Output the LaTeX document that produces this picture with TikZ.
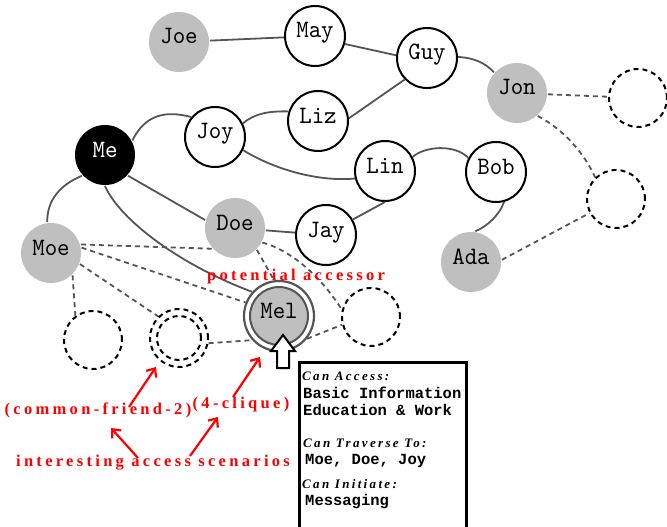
\documentclass[tikz,border=0pt]{standalone}
\usepackage{fontspec}
\usetikzlibrary{arrows.meta}
\newfontfamily\nodefont{lmmono10-regular.otf}[FakeStretch=0.95]
\newfontfamily\redfont[LetterSpace=20]{Liberation Serif}
\newfontfamily\headfont[LetterSpace=18]{Liberation Serif}
\newfontfamily\boxmonofont{Liberation Mono}
\definecolor{edgegray}{HTML}{555555}
\definecolor{fillgray}{HTML}{BFBFBF}
\begin{document}
\begin{tikzpicture}[x=1pt,y=-1pt,
  pnode/.style={circle, minimum size=60pt, inner sep=0pt, line width=2pt,
    font=\nodefont\fontsize{25}{25}\selectfont, text height=16pt, text depth=12pt},
  wnode/.style={pnode, draw=black, fill=white},
  gnode/.style={pnode, fill=fillgray},
  menode/.style={pnode, fill=black, text=white},
  dnode/.style={circle, minimum size=58pt, inner sep=0pt, draw=black, line width=2pt, dash pattern=on 5pt off 4pt},
  edge/.style={draw=edgegray, line width=1.8pt},
  dedge/.style={edge, dash pattern=on 5pt off 4pt},
  redlbl/.style={text=red, font=\redfont\bfseries\fontsize{16.5}{16.5}\selectfont, inner sep=0pt},
  redarr/.style={draw=red, line width=2.2pt, -{Straight Barb[length=7pt,width=12pt]}},
  headtxt/.style={anchor=base west, inner sep=0pt, font=\headfont\bfseries\itshape\fontsize{13}{13}\selectfont},
  monotxt/.style={anchor=base west, inner sep=0pt, font=\boxmonofont\bfseries\fontsize{15.5}{15.5}\selectfont},
]
\useasboundingbox (0,0) rectangle (667,527);

% nodes
\node[gnode] (joe) at (179,42) {Joe};
\node[wnode] (may) at (315,36) {May};
\node[wnode] (guy) at (427,58) {Guy};
\node[gnode] (jon) at (517,93) {Jon};
\node[dnode] (dTR) at (638,98) {};
\node[menode] (me) at (105,155) {Me};
\node[wnode] (joy) at (215,137) {Joy};
\node[wnode] (liz) at (318,121) {Liz};
\node[wnode] (lin) at (385,171) {Lin};
\node[wnode] (bob) at (496,172) {Bob};
\node[dnode] (dRM) at (616,199) {};
\node[gnode] (ada) at (471,262) {Ada};
\node[gnode] (moe) at (51,253) {Moe};
\node[gnode] (doe) at (235,228) {Doe};
\node[wnode] (jay) at (326,235) {Jay};
\node[circle, minimum size=70pt, inner sep=0pt, draw=edgegray, line width=2.2pt, fill=white] (melring) at (279,316) {};
\node[pnode, minimum size=58pt, draw=edgegray, fill=fillgray] (mel) at (279,316) {Mel};
\node[dnode] (dMR) at (371,317) {};
\node[dnode] (dbl) at (179,338) {};
\node[dnode, minimum size=44pt] (dblin) at (179,338) {};
\node[dnode] (dL) at (93,340) {};

% solid edges
\draw[edge] (joe) -- (may);
\draw[edge] (may.-15) -- (guy.175);
\draw[edge] (guy.224) -- (liz.5);
\draw[edge] (guy.2) .. controls (475,58) and (485,63) .. (jon.138);
\draw[edge] (me.28) .. controls (145,115) and (165,110) .. (joy.140);
\draw[edge] (joy.26) .. controls (255,113) and (270,111) .. (liz.162);
\draw[edge] (joy.-25) .. controls (275,170) and (320,182) .. (lin.194);
\draw[edge] (lin.27) .. controls (425,146) and (455,144) .. (bob.153);
\draw[edge] (bob.-75) .. controls (500,214) and (488,226) .. (ada.82);
\draw[edge] (lin.-90) -- (jay.30);
\draw[edge] (doe) -- (jay);
\draw[edge] (me.-42) -- (doe.165);
\draw[edge] (me.222) .. controls (60,185) and (47,200) .. (moe.97);
\draw[edge] (me.-90) .. controls (120,220) and (180,265) .. (melring.138);

% dashed edges
\draw[dedge] (jon) -- (dTR);
\draw[dedge] (jon.-48) .. controls (565,130) and (585,155) .. (dRM.134);
\draw[dedge] (ada.4) -- (dRM.208);
\draw[dedge] (moe.16) -- (doe.222);
\draw[dedge] (moe.10) -- (melring.158);
\draw[dedge] (moe.-21) -- (dbl.134);
\draw[dedge] (moe.-46) -- (dL.126);
\draw[dedge] (doe.-45) -- (melring.98);
\draw[dedge] (doe.-28) .. controls (290,250) and (320,275) .. (dMR.166);
\draw[dedge] (melring.-39) -- (dMR.195);
\draw[dedge] (dbl.-10) -- (melring.222);

% block arrow under Mel
\draw[line width=2pt, fill=white] (283,335) -- (295,351) -- (289,351) -- (289,368)
  -- (277,368) -- (277,351) -- (271,351) -- cycle;

% info box
\node[draw=black, line width=2.5pt, anchor=north west, minimum width=167pt, minimum height=200pt, inner sep=0pt] (info) at (298,361) {};
\node[headtxt] (h1) at (302,380) {Can Access:};
\node[monotxt] (t1) at (303,398) {Basic Information};
\node[monotxt] (t2) at (303,415) {Education \& Work};
\node[headtxt] (h2) at (303,447) {Can Traverse To:};
\node[monotxt] (t3) at (305,464) {Moe, Doe, Joy};
\node[headtxt] (h3) at (302,488) {Can Initiate:};
\node[monotxt] (t4) at (305,505) {Messaging};

% red labels
\node[redlbl] (pot) at (296,277) {potential accessor};
\node[redlbl] (cf) at (98,410) {(common-friend-2)};
\node[redlbl] (cq) at (241,405) {(4-clique)};
\node[redlbl] (ias) at (153,463) {interesting access scenarios};

% red arrows
\coordinate (a1s) at (129,407); \coordinate (a1e) at (156,367);
\coordinate (a2s) at (233,397); \coordinate (a2e) at (260,357);
\coordinate (a3s) at (138,458); \coordinate (a3e) at (111,428);
\coordinate (a4s) at (190,456); \coordinate (a4e) at (218,417);
\draw[redarr] (a1s) -- (a1e);
\draw[redarr] (a2s) -- (a2e);
\draw[redarr] (a3s) -- (a3e);
\draw[redarr] (a4s) -- (a4e);
\end{tikzpicture}
\end{document}
